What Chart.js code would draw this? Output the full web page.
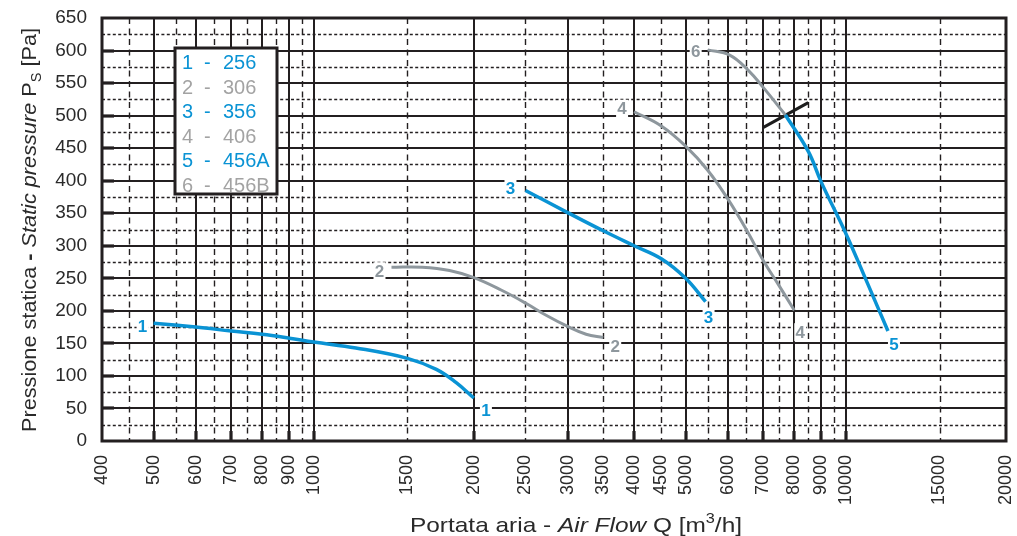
<!DOCTYPE html>
<html>
<head>
<meta charset="utf-8">
<script src="https://cdn.jsdelivr.net/npm/chart.js@4"></script>
<style>
  html, body { margin: 0; padding: 0; background: #fff; }
  #wrap { width: 1017px; height: 536px; }
</style>
</head>
<body>
<div id="wrap"><canvas id="fanChart" width="1017" height="536"></canvas></div>
<script>
// Axis ticks
const xTickLabels = [400, 500, 600, 700, 800, 900, 1000, 1500, 2000, 2500, 3000, 3500, 4000, 4500, 5000, 6000, 7000, 8000, 9000, 10000, 15000, 20000];
const yTickLabels = [0, 50, 100, 150, 200, 250, 300, 350, 400, 450, 500, 550, 600, 650];
const xGridMajor = [500, 600, 700, 800, 900, 1000, 2000, 3000, 4000, 5000, 6000, 7000, 8000, 9000, 10000];
const xGridMinor = [450, 550, 650, 750, 850, 950, 1500, 2500, 3500, 4500, 5500, 6500, 7500, 8500, 9500, 15000];
const yGridMajor = [50, 100, 150, 200, 250, 300, 350, 400, 450, 500, 550, 600];
const yGridMinor = [25, 75, 125, 175, 225, 275, 325, 375, 425, 475, 525, 575, 625];

// Curves: air flow Q [m3/h] / static pressure [Pa]
const q1 = [500, 600, 700, 800, 900, 1000, 1200, 1500, 1700, 1850, 2000];
const p1 = [181, 175, 169, 164, 158, 152, 143, 127, 110, 90, 66];
const q2 = [1400, 1600, 1800, 2000, 2250, 2500, 2750, 3000, 3250, 3500];
const p2 = [267, 267, 262, 251, 232, 212, 192, 176, 164, 159];
const q3 = [2500, 3000, 3500, 4000, 4500, 5000, 5450];
const p3 = [385, 351, 323, 300, 280, 250, 214];
const q4 = [4000, 4500, 5000, 5500, 6000, 6500, 7000, 7500, 8000];
const p4 = [506, 484, 453, 416, 372, 325, 277, 238, 201];
const q5 = [7700, 8500, 9000, 10000, 11000, 12000];
const p5 = [501, 445, 397, 319, 241, 169];
const q6 = [5500, 6050, 6550, 7000, 7700];
const p6 = [601, 593, 570, 543, 501];
const qMark = [7000, 8500];
const pMark = [482, 520];

const legendNums = ['1', '2', '3', '4', '5', '6'];
const legendModels = ['256', '306', '356', '406', '456A', '456B'];

const BLUE = '#0a93d4';
const GREY = '#8e979d';
const GREY_TXT = '#a3a3a3';
const INK = '#231f20';
const FONT = '"Liberation Sans", Arial, sans-serif';

function pts(xs, ys) {
    return xs.map((x, i) => ({ x: x, y: ys[i] }));
}

function curve(xs, ys, color, width) {
    return {
        data: pts(xs, ys),
        borderColor: color,
        borderWidth: width,
        pointRadius: 0,
        fill: false,
        tension: 0.4,
        borderCapStyle: 'butt'
    };
}

// curve end labels: dataset index, which end, text, offset from the end point
const curveLabels = [
    { ds: 0, end: 'first', text: '1', dx: -11, dy: 3, color: BLUE },
    { ds: 0, end: 'last', text: '1', dx: 12, dy: 12, color: BLUE },
    { ds: 1, end: 'first', text: '2', dx: -12, dy: 4, color: GREY },
    { ds: 1, end: 'last', text: '2', dx: 12, dy: 9, color: GREY },
    { ds: 2, end: 'first', text: '3', dx: -15, dy: -2, color: BLUE },
    { ds: 2, end: 'last', text: '3', dx: 3, dy: 16, color: BLUE },
    { ds: 3, end: 'first', text: '4', dx: -12, dy: -3, color: GREY },
    { ds: 3, end: 'last', text: '4', dx: 6, dy: 22, color: GREY },
    { ds: 4, end: 'last', text: '5', dx: 6, dy: 13, color: BLUE },
    { ds: 5, end: 'first', text: '6', dx: -12, dy: 1, color: GREY }
];

const gridPlugin = {
    id: 'fanGrid',
    beforeDatasetsDraw(chart) {
        const { ctx, chartArea: a, scales: { x, y } } = chart;
        ctx.save();
        ctx.strokeStyle = INK;
        // dotted horizontal
        ctx.lineWidth = 1.6;
        ctx.setLineDash([3, 2.4]);
        yGridMinor.forEach(v => {
            const py = Math.round(y.getPixelForValue(v)) + 0.5;
            ctx.beginPath(); ctx.moveTo(a.left, py); ctx.lineTo(a.right, py); ctx.stroke();
        });
        // dashed vertical
        ctx.lineWidth = 1.4;
        ctx.setLineDash([6, 4.5]);
        xGridMinor.forEach(v => {
            const px = Math.round(x.getPixelForValue(v)) + 0.5;
            ctx.beginPath(); ctx.moveTo(px, a.top); ctx.lineTo(px, a.bottom); ctx.stroke();
        });
        ctx.setLineDash([]);
        ctx.lineWidth = 2;
        yGridMajor.forEach(v => {
            const py = Math.round(y.getPixelForValue(v));
            ctx.beginPath(); ctx.moveTo(a.left, py); ctx.lineTo(a.right, py); ctx.stroke();
        });
        xGridMajor.forEach(v => {
            const px = Math.round(x.getPixelForValue(v));
            ctx.beginPath(); ctx.moveTo(px, a.top); ctx.lineTo(px, a.bottom); ctx.stroke();
        });
        // heavier tick stubs on the axes
        ctx.lineWidth = 3.2;
        yGridMajor.forEach(v => {
            const py = Math.round(y.getPixelForValue(v));
            ctx.beginPath(); ctx.moveTo(a.left, py); ctx.lineTo(a.left + 12, py); ctx.stroke();
        });
        xGridMajor.forEach(v => {
            const px = Math.round(x.getPixelForValue(v));
            ctx.beginPath(); ctx.moveTo(px, a.bottom); ctx.lineTo(px, a.bottom - 10); ctx.stroke();
        });
        // frame
        ctx.lineWidth = 3;
        ctx.strokeRect(a.left, a.top, a.right - a.left, a.bottom - a.top);
        ctx.restore();
    }
};

function drawRuns(ctx, runs, x0, baseline) {
    let x = x0;
    runs.forEach(r => {
        ctx.font = r.font;
        ctx.fillText(r.t, x, baseline + (r.dy || 0));
        x += ctx.measureText(r.t).width;
    });
}
function runsWidth(ctx, runs) {
    let w = 0;
    runs.forEach(r => { ctx.font = r.font; w += ctx.measureText(r.t).width; });
    return w;
}
// draw runs centred on (cx, baseline), stretched horizontally to a target width
function drawTitle(ctx, runs, cx, baseline, targetW) {
    const w = runsWidth(ctx, runs);
    ctx.save();
    ctx.translate(cx, baseline);
    ctx.scale(targetW / w, 1);
    drawRuns(ctx, runs, -w / 2, 0);
    ctx.restore();
}

const overlayPlugin = {
    id: 'fanOverlay',
    afterDatasetsDraw(chart) {
        const { ctx, scales: { x, y } } = chart;
        ctx.save();

        // curve number labels
        ctx.font = 'bold 17px ' + FONT;
        ctx.textAlign = 'center';
        ctx.textBaseline = 'middle';
        curveLabels.forEach(l => {
            const d = chart.data.datasets[l.ds].data;
            const p = l.end === 'first' ? d[0] : d[d.length - 1];
            const cx = x.getPixelForValue(p.x) + l.dx;
            const cy = y.getPixelForValue(p.y) + l.dy;
            ctx.fillStyle = '#fff';
            ctx.fillRect(cx - 6, cy - 9, 12, 18);
            ctx.fillStyle = l.color;
            ctx.fillText(l.text, cx, cy + 1);
        });

        // legend box
        ctx.fillStyle = '#fff';
        ctx.fillRect(175, 48, 102, 146);
        ctx.font = '20px ' + FONT;
        ctx.textAlign = 'left';
        ctx.textBaseline = 'alphabetic';
        legendNums.forEach((n, i) => {
            const by = 69 + i * 24.6;
            ctx.fillStyle = i % 2 === 0 ? BLUE : GREY_TXT;
            ctx.fillText(n, 182, by);
            ctx.fillText('-', 204, by);
            ctx.fillText(legendModels[i], 223, by);
        });
        ctx.strokeStyle = INK;
        ctx.lineWidth = 3;
        ctx.strokeRect(175, 48, 102, 146);

        // axis titles
        ctx.fillStyle = '#2a2a2a';
        const f = '21px ' + FONT;
        const xRuns = [
            { t: 'Portata aria - ', font: f },
            { t: 'Air Flow', font: 'italic 21px ' + FONT },
            { t: ' Q [m', font: f },
            { t: '3', font: '14px ' + FONT, dy: -9 },
            { t: '/h]', font: f }
        ];
        drawTitle(ctx, xRuns, 576, 532, 332);

        const yRuns = [
            { t: 'Pressione statica ', font: f },
            { t: '-', font: 'bold 21px ' + FONT },
            { t: ' ', font: f },
            { t: 'Static pressure', font: 'italic 21px ' + FONT },
            { t: ' P', font: f },
            { t: 'S', font: '14px ' + FONT, dy: 5 },
            { t: ' [Pa]', font: f }
        ];
        ctx.translate(36, 230);
        ctx.rotate(-Math.PI / 2);
        drawTitle(ctx, yRuns, 0, 0, 404);
        ctx.restore();
    }
};

new Chart(document.getElementById('fanChart'), {
    type: 'line',
    data: {
        datasets: [
            curve(q1, p1, BLUE, 3.5),
            curve(q2, p2, GREY, 3),
            curve(q3, p3, BLUE, 3.5),
            curve(q4, p4, GREY, 3),
            curve(q5, p5, BLUE, 3.5),
            curve(q6, p6, GREY, 3),
            Object.assign(curve(qMark, pMark, '#1d1d1d', 3), { tension: 0 })
        ]
    },
    options: {
        responsive: false,
        animation: false,
        layout: { padding: { left: 0, right: 11, top: 18, bottom: 0 } },
        plugins: { legend: { display: false }, tooltip: { enabled: false } },
        scales: {
            x: {
                type: 'logarithmic',
                min: 400,
                max: 20000,
                grid: { display: false },
                border: { display: false },
                afterBuildTicks: s => { s.ticks = xTickLabels.map(v => ({ value: v })); },
                afterFit: s => { s.height = 95; s.paddingLeft = 0; s.paddingRight = 0; },
                ticks: {
                    autoSkip: false,
                    minRotation: 90,
                    maxRotation: 90,
                    padding: 6,
                    color: '#2a2a2a',
                    font: { family: FONT, size: 18 },
                    callback: v => String(v)
                }
            },
            y: {
                min: 0,
                max: 650,
                grid: { display: false },
                border: { display: false },
                afterBuildTicks: s => { s.ticks = yTickLabels.map(v => ({ value: v })); },
                afterFit: s => { s.width = 102; s.paddingTop = 0; s.paddingBottom = 0; },
                ticks: {
                    padding: 7,
                    color: '#2a2a2a',
                    font: { family: FONT, size: 19 }
                }
            }
        }
    },
    plugins: [gridPlugin, overlayPlugin]
});
</script>
</body>
</html>
